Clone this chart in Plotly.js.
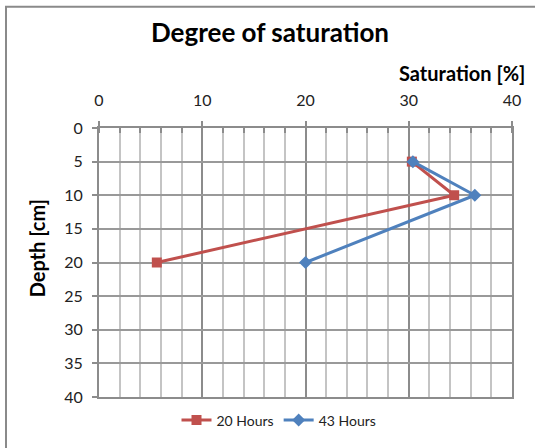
<!DOCTYPE html>
<html>
<head>
<meta charset="utf-8">
<script src="https://cdn.plot.ly/plotly-3.0.1.min.js"></script>
<style>
  html, body { margin: 0; padding: 0; background: #fff; }
  #chart { width: 535px; height: 448px; }
</style>
</head>
<body>
<div id="chart"></div>
<script>
// Data
const depth20 = [5, 10, 20];
const sat20 = [30.3, 34.4, 5.6];
const depth43 = [5, 10, 20];
const sat43 = [30.4, 36.4, 20.0];
const seriesNames = ["20 Hours", "43 Hours"];
const xTickVals = [0, 10, 20, 30, 40];
const yTickVals = [0, 5, 10, 15, 20, 25, 30, 35, 40];

const traces = [
  {
    x: sat20, y: depth20, name: seriesNames[0], type: 'scatter', mode: 'lines+markers',
    line: { color: '#C0504D', width: 3 },
    marker: { symbol: 'square', size: 10, color: '#C0504D' }
  },
  {
    x: sat43, y: depth43, name: seriesNames[1], type: 'scatter', mode: 'lines+markers',
    line: { color: '#4F81BD', width: 3 },
    marker: { symbol: 'diamond', size: 10, color: '#4F81BD' }
  }
];

const L = 99, R = 23, T = 128, B = 45;
const PW = 535 - L - R, PH = 448 - T - B;
const px = v => (v - L) / PW;
const py = v => 1 - (v - T) / PH;

const layout = {
  width: 535, height: 448,
  margin: { l: L, r: R, t: T, b: B },
  paper_bgcolor: '#fff', plot_bgcolor: '#fff',
  font: { family: 'Lato, "Open Sans", sans-serif', color: '#222', size: 16 },
  title: {
    text: '<b>Degree of saturation</b>',
    font: { family: 'Lato, sans-serif', size: 26, color: '#000' },
    xref: 'container', x: 270 / 535, xanchor: 'center',
    yref: 'container', y: 1 - 33 / 448, yanchor: 'middle'
  },
  xaxis: {
    side: 'top', range: [0, 40], tickvals: xTickVals, ticktext: xTickVals.map(String),
    showgrid: true, gridcolor: '#8c8c8c', gridwidth: 2,
    showline: true, linecolor: '#8c8c8c', linewidth: 2, mirror: true,
    ticks: 'outside', ticklen: 5, tickcolor: '#8c8c8c', tickwidth: 2,
    ticklabelstandoff: 9,
    zeroline: false, fixedrange: true,
    tickfont: { size: 16, color: '#222' },
    minor: { dtick: 2, showgrid: true, gridcolor: '#c4c4c4', gridwidth: 2,
             ticks: 'inside', ticklen: 5, tickcolor: '#8c8c8c', tickwidth: 2 }
  },
  yaxis: {
    autorange: false, range: [40, 0], tickvals: yTickVals, ticktext: yTickVals.map(String),
    showgrid: true, gridcolor: '#999999', gridwidth: 2,
    showline: true, linecolor: '#8c8c8c', linewidth: 2, mirror: true,
    ticks: 'outside', ticklen: 5, tickcolor: '#8c8c8c', tickwidth: 2,
    ticklabelstandoff: 6,
    zeroline: false, fixedrange: true,
    tickfont: { size: 16, color: '#222' }
  },
  showlegend: true,
  legend: {
    orientation: 'h', x: px(279), xanchor: 'center', y: py(427), yanchor: 'middle',
    font: { size: 14, color: '#222' }, bgcolor: 'rgba(0,0,0,0)', itemwidth: 30
  },
  annotations: [
    { text: '<b>Saturation [%]</b>', xref: 'paper', yref: 'paper',
      x: px(527), xanchor: 'right', y: py(72), yanchor: 'middle', showarrow: false,
      font: { size: 20, color: '#000' } },
    { text: '<b>Depth [cm]</b>', xref: 'paper', yref: 'paper', textangle: -90,
      x: px(37), xanchor: 'center', y: py(251), yanchor: 'middle', showarrow: false,
      font: { size: 20, color: '#000' } }
  ],
  shapes: [
    { type: 'path', xref: 'paper', yref: 'paper',
      path: `M ${px(6)},${py(460)} L ${px(6)},${py(4)} L ${px(560)},${py(4)}`,
      line: { color: '#8a8a8a', width: 2 } }
  ]
};

Plotly.newPlot('chart', traces, layout, { displayModeBar: false, staticPlot: true });
</script>
</body>
</html>
